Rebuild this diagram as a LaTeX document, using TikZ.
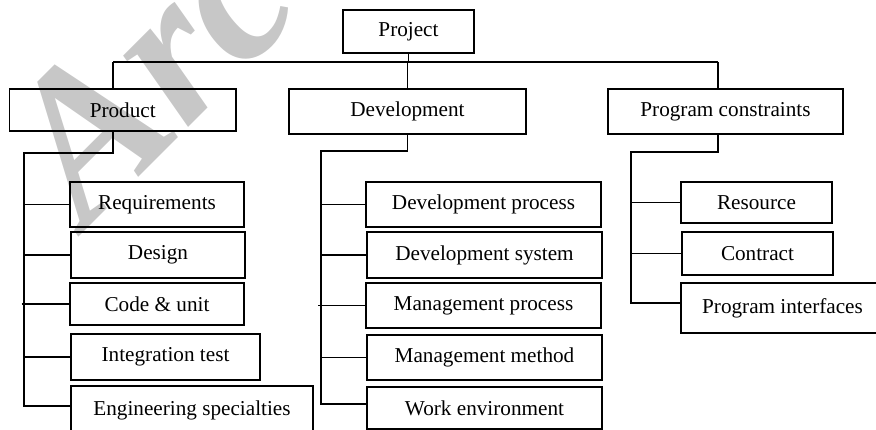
\documentclass[tikz,border=0pt]{standalone}
\usepackage{fontspec}
\setmainfont{Liberation Serif}
\begin{document}
\begin{tikzpicture}[x=1pt,y=-1pt,
  box/.style={draw=black,line width=1.2pt,inner sep=0pt,
    font=\fontsize{21.2}{25}\selectfont},
  link/.style={draw=black,line width=1.2pt},
  wmark/.style={text=black!22,font=\fontsize{210}{210}\selectfont\bfseries\itshape,inner sep=0pt}]
\useasboundingbox (0,0) rectangle (876,430);
\clip (0,0) rectangle (876,430);
\node[wmark,rotate=45,anchor=base west] (wm) at (86,230) {Arc};
% top level
\node[box,minimum width=131pt,minimum height=43pt] (project) at (408.5,31.5) {Project};
\node[box,minimum width=226.5pt,minimum height=42pt] (product) at (122.75,110) {Product\hspace{48.5pt}};
\node[box,minimum width=237pt,minimum height=45pt] (development) at (407.5,111.5) {Development};
\node[box,minimum width=235pt,minimum height=45pt] (constraints) at (725.5,111.5) {Program constraints};
% product children
\node[box,minimum width=174pt,minimum height=45pt] (req) at (157,204.5) {Requirements};
\node[box,minimum width=174pt,minimum height=46pt] (design) at (158,255) {Design};
\node[box,minimum width=174pt,minimum height=42pt] (code) at (157,304) {Code \& unit};
\node[box,minimum width=189pt,minimum height=46pt] (integ) at (165.5,357) {Integration test};
\node[box,minimum width=242pt,minimum height=48pt] (eng) at (192,410) {Engineering specialties};
% development children
\node[box,minimum width=235pt,minimum height=45pt] (devproc) at (483.5,204.5) {Development process};
\node[box,minimum width=235pt,minimum height=46pt] (devsys) at (484.5,255) {Development system};
\node[box,minimum width=235pt,minimum height=45pt] (mgproc) at (483.5,305.5) {Management process};
\node[box,minimum width=235pt,minimum height=45pt] (mgmeth) at (484.5,357.5) {Management method};
\node[box,minimum width=235pt,minimum height=42pt] (workenv) at (484.5,408) {Work environment};
% constraint children
\node[box,minimum width=151pt,minimum height=41pt] (resource) at (756.5,202.5) {Resource};
\node[box,minimum width=151pt,minimum height=43pt] (contract) at (757.5,253.5) {Contract};
\node[box,minimum width=203pt,minimum height=50pt] (interfaces) at (782.5,308) {Program interfaces};
% coordinates
\coordinate (busL) at (113,62);
\coordinate (busR) at (718,62);
\coordinate (pbend) at (24,153);
\coordinate (dbend) at (321,151);
\coordinate (cbend) at (631,152);
\coordinate (prow) at (0,406);
\coordinate (drow) at (0,404);
\coordinate (crow) at (0,303);
% bus
\draw[link] (busL) -- (busR);
\draw[link] (project.south) -- (project.south |- busL);
\draw[link] (busL) -- (busL |- product.north);
\draw[link] (development.north) -- (development.north |- busL);
\draw[link] (busR) -- (busR |- constraints.north);
% product tree
\draw[link] (busL |- product.south) -- (busL |- pbend) -- (pbend) -- (pbend |- prow) -- (prow -| eng.west);
\draw[link] (pbend |- req.west) -- (req.west);
\draw[link] (pbend |- design.west) -- (design.west);
\draw[link] ([xshift=-2.5pt]pbend |- code.west) -- (code.west);
\draw[link] (pbend |- integ.west) -- (integ.west);
% development tree
\draw[link] (development.south) -- (development.south |- dbend) -- (dbend) -- (dbend |- drow) -- (drow -| workenv.west);
\draw[link] (dbend |- devproc.west) -- (devproc.west);
\draw[link] (dbend |- devsys.west) -- (devsys.west);
\draw[link] ([xshift=-3pt]dbend |- mgproc.west) -- (mgproc.west);
\draw[link] (dbend |- mgmeth.west) -- (mgmeth.west);
% constraints tree
\draw[link] (busR |- constraints.south) -- (busR |- cbend) -- (cbend) -- (cbend |- crow) -- (crow -| interfaces.west);
\draw[link] (cbend |- resource.west) -- (resource.west);
\draw[link] (cbend |- contract.west) -- (contract.west);
\end{tikzpicture}
\end{document}
